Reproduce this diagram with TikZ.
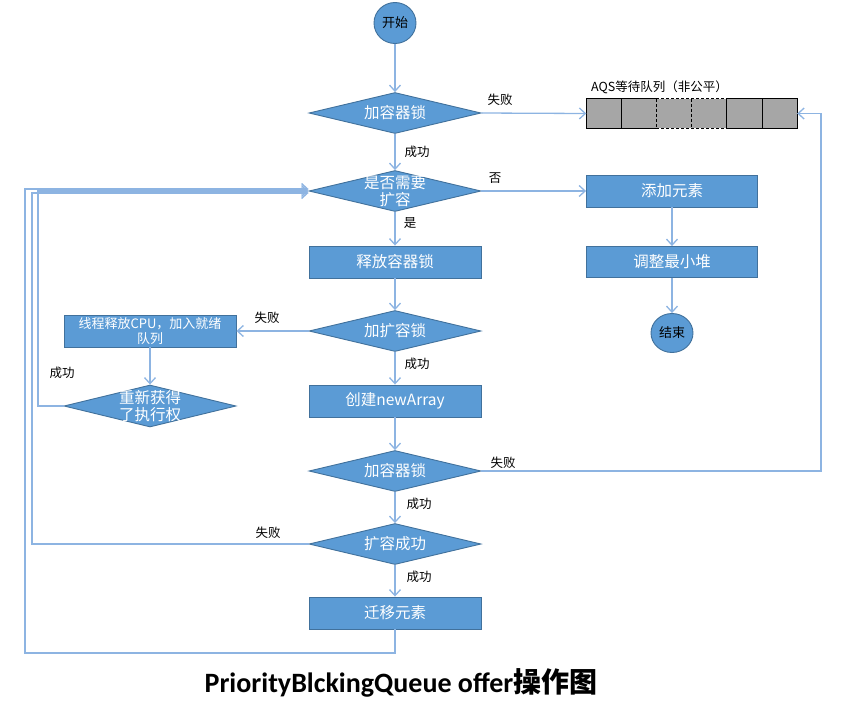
\documentclass[tikz,border=0pt]{standalone}
\usepackage{fontspec}
\setmainfont{Noto Sans CJK SC}
\newfontfamily\carlito{Carlito}
\usetikzlibrary{shapes.geometric,arrows.meta}
\definecolor{boxblue}{HTML}{5B9BD5}
\definecolor{boxedge}{HTML}{41719C}
\definecolor{linkblue}{HTML}{8DB4E2}
\definecolor{cellgray}{HTML}{A6A6A6}
\begin{document}
\begin{tikzpicture}[x=1pt,y=-1pt,
  proc/.style={draw=boxedge,fill=boxblue,line width=0.9pt,minimum width=172pt,minimum height=32pt,inner sep=0pt,text=white,font=\fontsize{15.5}{18}\selectfont},
  dec/.style={diamond,draw=boxedge,fill=boxblue,line width=0.9pt,minimum width=172pt,minimum height=41pt,inner sep=0pt},
  dtext/.style={text=white,font=\fontsize{15.5}{17}\selectfont,align=center,inner sep=0pt},
  term/.style={ellipse,draw=boxedge,fill=boxblue,line width=0.9pt,minimum width=42pt,minimum height=41pt,inner sep=0pt,font=\fontsize{13}{15}\selectfont},
  conn/.style={draw=linkblue,line width=1.3pt,-{Straight Barb[length=6pt,width=11pt]}},
  lbl/.style={font=\fontsize{12.5}{14}\selectfont,inner sep=0pt},
  cell/.style={fill=cellgray,draw=none,minimum width=35pt,minimum height=29pt,inner sep=0pt},
  qline/.style={draw=black,line width=0.9pt},
]
\useasboundingbox (0,0) rectangle (868,705);

% main column
\node[term] (start) at (395,23) {开始};
\node[dec,label={[dtext]center:加容器锁}] (d1) at (395,113) {};
\node[dec,label={[dtext]center:是否需要\\扩容}] (d2) at (395,191) {};
\node[proc] (rel) at (395,262) {释放容器锁};
\node[dec,label={[dtext]center:加扩容锁}] (d3) at (395,331) {};
\node[proc] (arr) at (395,401) {创建newArray};
\node[dec,label={[dtext]center:加容器锁}] (d5) at (395,471) {};
\node[dec,label={[dtext]center:扩容成功}] (d6) at (395,544) {};
\node[proc] (mig) at (395,613) {迁移元素};

% right column
\node[proc,minimum width=171pt] (add) at (672,191) {添加元素};
\node[proc,minimum width=171pt,minimum height=31pt] (adj) at (672,262) {调整最小堆};
\node[term,minimum height=39pt] (end) at (672,333) {结束};

% left column
\node[proc,font=\fontsize{13}{15}\selectfont,align=center] (thr) at (150,331) {线程释放CPU，加入就绪\\队列};
\node[dec,minimum height=42pt,label={[dtext]center:重新获得\\了执行权}] (d4) at (150,406) {};

% queue
\node[cell] (c1) at (604,113.5) {};
\node[cell] (c2) at (639,113.5) {};
\node[cell] (c3) at (674,113.5) {};
\node[cell] (c4) at (709,113.5) {};
\node[cell] (c5) at (744.5,113.5) {};
\node[cell] (c6) at (779.5,113.5) {};
\draw[qline] (c3.north west) -- (c1.north west) -- (c1.south west) -- (c3.south west);
\draw[qline] (c5.north west) -- (c6.north east) -- (c6.south east) -- (c5.south west) -- cycle;
\draw[qline] (c1.north east) -- (c1.south east);
\draw[qline] (c5.north east) -- (c5.south east);
\draw[qline,dash pattern=on 3pt off 2pt] (c3.north west) -- (c5.north west) (c3.south west) -- (c5.south west)
  (c3.north west) -- (c3.south west) (c3.north east) -- (c3.south east);
\node[lbl,anchor=west] (qlabel) at (591,87) {AQS等待队列（非公平）};

% corner coordinates
\coordinate (cA) at (38,300);
\coordinate (cB) at (821,300);
\coordinate (cC) at (32,300);
\coordinate (cD) at (25,653);

% connectors
\draw[conn] (start) -- (d1);
\draw[conn] (d1.east) -- (c1.west);
\draw[conn] (d1) -- (d2);
\draw[conn] (d2.east) -- (add.west);
\draw[conn] (add) -- (adj);
\draw[conn] (adj) -- (end);
\draw[conn] (d2) -- (rel);
\draw[conn] (rel) -- (d3);
\draw[conn] (d3.west) -- (thr.east);
\draw[conn] (d3) -- (arr);
\draw[conn] (thr) -- (d4);
\draw[conn] (d4.west) -| (cA) |- (d2.west);
\draw[conn] (arr) -- (d5);
\draw[conn] (d5.east) -| (cB) |- (c6.east);
\draw[conn] (d5) -- (d6);
\draw[conn] (d6.west) -| (cC) |- ([yshift=-2pt]d2.west);
\draw[conn] (d6) -- (mig);
\draw[conn] (mig.south) |- (cD) |- ([yshift=2pt]d2.west);

% labels
\node[lbl] (l1) at (500,100) {失败};
\node[lbl] (l2) at (417,152) {成功};
\node[lbl] (l3) at (495,178) {否};
\node[lbl] (l4) at (410,223) {是};
\node[lbl] (l5) at (267,318) {失败};
\node[lbl] (l6) at (417,364) {成功};
\node[lbl] (l7) at (62,373) {成功};
\node[lbl] (l8) at (503,463) {失败};
\node[lbl] (l9) at (419,504) {成功};
\node[lbl] (l10) at (268,533) {失败};
\node[lbl] (l11) at (419,577) {成功};

% title
\node[inner sep=0pt] (title) at (401,683) {\fontsize{28}{32}\selectfont{\carlito\bfseries PriorityBlckingQueue offer}{\bfseries 操作图}};
\end{tikzpicture}
\end{document}
